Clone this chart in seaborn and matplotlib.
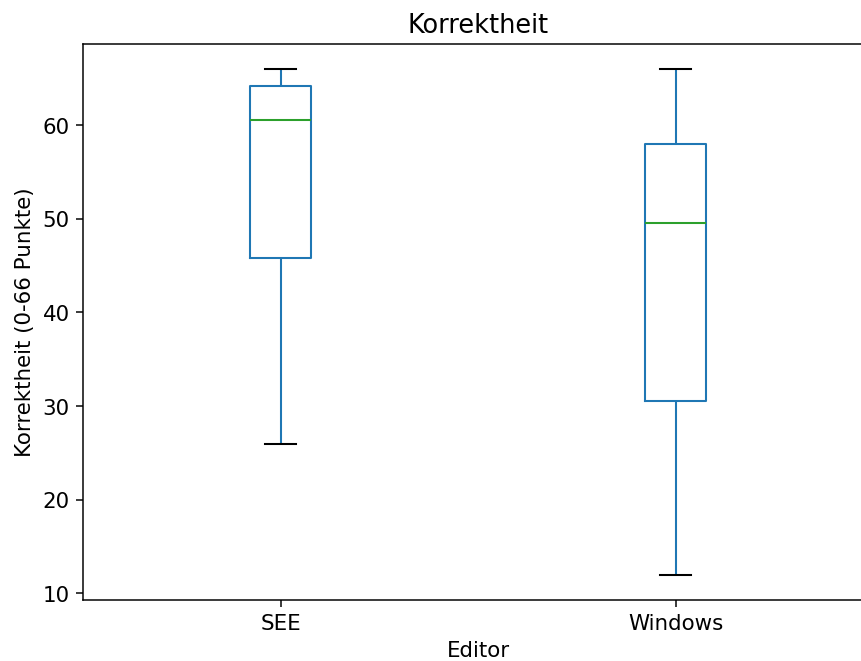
import numpy as np
import pandas as pd
import matplotlib.pyplot as plt
import seaborn as sns

editors = ["SEE", "Windows"]
# five-number summaries (min, Q1, median, Q3, max)
see_scores = [26, 45.8, 60.5, 64.2, 66]
windows_scores = [12, 30.5, 49.5, 58, 66]

df = pd.DataFrame({
    "Editor": ["SEE"] * len(see_scores) + ["Windows"] * len(windows_scores),
    "Korrektheit": see_scores + windows_scores,
})

plt.rcParams["font.size"] = 11.4

fig, ax = plt.subplots(figsize=(6.38, 4.9), dpi=135)
sns.boxplot(data=df, x="Editor", y="Korrektheit", order=editors, ax=ax,
            fill=False, color="#1f77b4", width=0.155, linewidth=1.1,
            medianprops={"color": "#2ca02c"},
            capprops={"color": "black"},
            whiskerprops={"color": "#1f77b4"})
ax.set_xlim(-0.5, 1.5)
ax.set_title("Korrektheit")
ax.set_xlabel("Editor")
ax.set_ylabel("Korrektheit (0-66 Punkte)")
# the original image is cropped on the right, so the axes runs past the edge
fig.subplots_adjust(left=0.0964, right=1.014, top=0.9334, bottom=0.0923)
fig.savefig("out.png", dpi=135)
